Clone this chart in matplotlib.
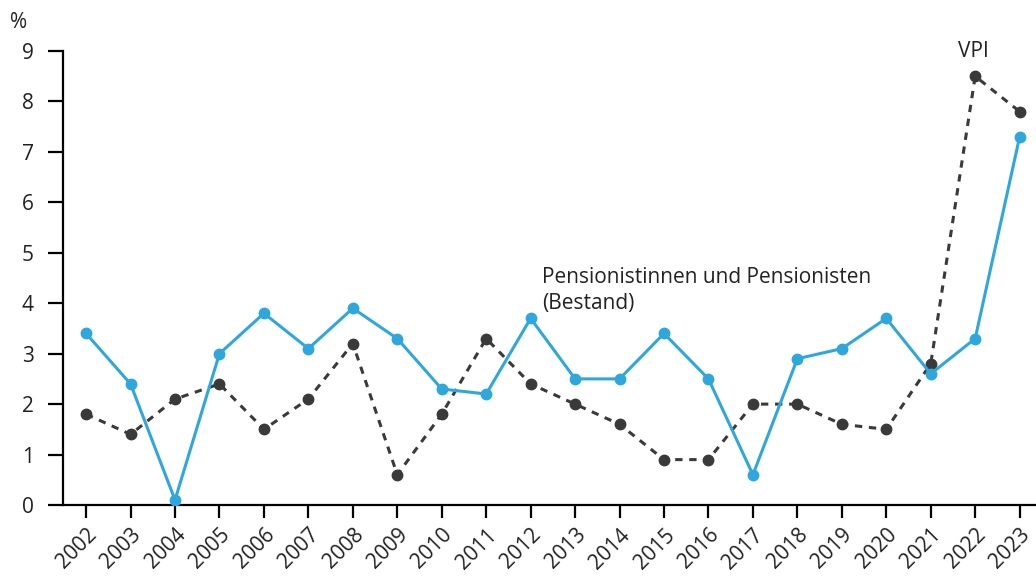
import matplotlib.pyplot as plt

years = list(range(2002, 2024))
pension = [3.4, 2.4, 0.1, 3.0, 3.8, 3.1, 3.9, 3.3, 2.3, 2.2, 3.7,
           2.5, 2.5, 3.4, 2.5, 0.6, 2.9, 3.1, 3.7, 2.6, 3.3, 7.3]
vpi = [1.8, 1.4, 2.1, 2.4, 1.5, 2.1, 3.2, 0.6, 1.8, 3.3, 2.4,
       2.0, 1.6, 0.9, 0.9, 2.0, 2.0, 1.6, 1.5, 2.8, 8.5, 7.8]

blue = '#2EA8DC'
dark = '#3a3a3a'
fs = 15

plt.rcParams['font.family'] = ['Open Sans', 'DejaVu Sans']

fig = plt.figure(figsize=(10.36, 5.81), dpi=100)
ax = fig.add_axes([0.0608, 0.1308, 0.938, 0.7814])

ax.plot(years, vpi, color=dark, lw=2.2, ls=(0, (2.4, 2.2)), marker='o', ms=7.5, zorder=3)
ax.plot(years, pension, color=blue, lw=2.2, marker='o', ms=7.5, zorder=4)

ax.set_xlim(2001.48, 2023.34)
ax.set_ylim(0, 9)
ax.set_yticks(range(10))
ax.set_xticks(years)
ax.set_xticklabels([str(y) for y in years], rotation=45, ha='right',
                   rotation_mode='anchor', fontsize=fs, color='#222222')
ax.tick_params(axis='y', length=11, width=1.6, labelsize=fs, labelcolor='#222222', pad=10)
ax.tick_params(axis='x', length=9, width=1.6, pad=5)

for s in ['top', 'right']:
    ax.spines[s].set_visible(False)
for s in ['left', 'bottom']:
    ax.spines[s].set_linewidth(1.6)

fig.text(0.010, 0.962, '%', fontsize=fs, color='#222222', va='center')
ax.text(2021.95, 9.0, 'VPI', fontsize=fs, color='#222222', ha='center', va='center')
ax.text(2012.25, 4.72, 'Pensionistinnen und Pensionisten\n(Bestand)', fontsize=fs,
        color='#222222', ha='left', va='top', linespacing=1.3)

fig.savefig('out.png', dpi=100)
